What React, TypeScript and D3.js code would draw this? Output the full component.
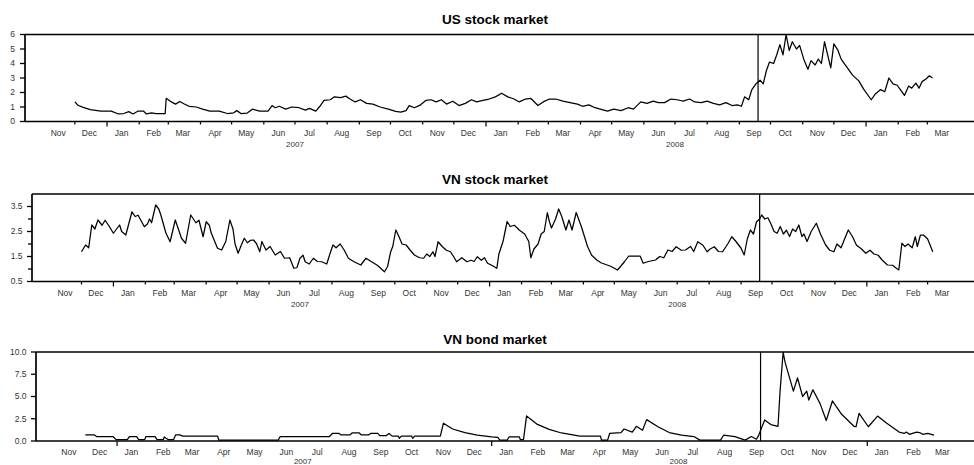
import React from 'react';
import * as d3 from 'd3';

// ---------- data ----------
const usStock: [string, number][] = [
  ['2006-12-01', 1.35], ['2006-12-04', 1.12], ['2006-12-09', 0.97], ['2006-12-16', 0.82], ['2006-12-26', 0.72],
  ['2007-01-05', 0.72], ['2007-01-12', 0.52], ['2007-01-17', 0.55], ['2007-01-22', 0.68], ['2007-01-26', 0.52],
  ['2007-01-31', 0.72], ['2007-02-05', 0.72], ['2007-02-08', 0.52], ['2007-02-13', 0.6], ['2007-02-17', 0.55],
  ['2007-02-26', 0.55], ['2007-02-27', 1.6], ['2007-03-01', 1.5], ['2007-03-04', 1.35], ['2007-03-08', 1.2],
  ['2007-03-12', 1.38], ['2007-03-16', 1.22], ['2007-03-21', 1.05], ['2007-03-28', 1.0], ['2007-04-03', 0.85],
  ['2007-04-10', 0.72], ['2007-04-19', 0.72], ['2007-04-27', 0.55], ['2007-05-03', 0.6], ['2007-05-06', 0.75],
  ['2007-05-10', 0.55], ['2007-05-16', 0.58], ['2007-05-21', 0.85], ['2007-05-28', 0.72], ['2007-06-05', 0.72],
  ['2007-06-09', 1.1], ['2007-06-12', 0.95], ['2007-06-16', 1.05], ['2007-06-22', 0.85], ['2007-06-28', 1.0],
  ['2007-07-05', 0.95], ['2007-07-11', 0.78], ['2007-07-15', 0.9], ['2007-07-21', 0.72], ['2007-07-25', 1.05],
  ['2007-07-29', 1.45], ['2007-08-04', 1.5], ['2007-08-08', 1.7], ['2007-08-14', 1.65], ['2007-08-19', 1.75],
  ['2007-08-23', 1.55], ['2007-08-28', 1.35], ['2007-09-02', 1.5], ['2007-09-08', 1.25], ['2007-09-14', 1.2],
  ['2007-09-21', 1.0], ['2007-09-29', 0.85], ['2007-10-06', 0.7], ['2007-10-11', 0.65], ['2007-10-16', 0.75],
  ['2007-10-19', 1.1], ['2007-10-24', 0.95], ['2007-10-30', 1.15], ['2007-11-04', 1.45], ['2007-11-09', 1.5],
  ['2007-11-14', 1.35], ['2007-11-19', 1.5], ['2007-11-24', 1.2], ['2007-11-30', 1.4], ['2007-12-06', 1.1],
  ['2007-12-12', 1.25], ['2007-12-18', 1.5], ['2007-12-23', 1.35], ['2007-12-29', 1.45], ['2008-01-04', 1.55],
  ['2008-01-10', 1.7], ['2008-01-16', 1.95], ['2008-01-22', 1.7], ['2008-01-28', 1.55], ['2008-02-02', 1.35],
  ['2008-02-08', 1.55], ['2008-02-13', 1.6], ['2008-02-20', 1.1], ['2008-02-25', 1.35], ['2008-03-02', 1.55],
  ['2008-03-08', 1.55], ['2008-03-15', 1.4], ['2008-03-22', 1.3], ['2008-03-29', 1.2], ['2008-04-03', 1.05],
  ['2008-04-09', 1.15], ['2008-04-15', 0.95], ['2008-04-20', 0.85], ['2008-04-27', 0.72], ['2008-05-03', 0.85],
  ['2008-05-10', 0.75], ['2008-05-17', 0.95], ['2008-05-22', 0.85], ['2008-05-29', 1.35], ['2008-06-04', 1.25],
  ['2008-06-10', 1.4], ['2008-06-15', 1.3], ['2008-06-21', 1.3], ['2008-06-27', 1.55], ['2008-07-03', 1.5],
  ['2008-07-09', 1.4], ['2008-07-15', 1.55], ['2008-07-20', 1.35], ['2008-07-26', 1.3], ['2008-08-01', 1.4],
  ['2008-08-07', 1.25], ['2008-08-13', 1.15], ['2008-08-19', 1.3], ['2008-08-25', 1.1], ['2008-08-30', 1.15],
  ['2008-09-03', 1.05], ['2008-09-06', 1.7], ['2008-09-10', 1.5], ['2008-09-13', 2.2], ['2008-09-17', 2.6],
  ['2008-09-21', 2.85], ['2008-09-24', 2.6], ['2008-09-27', 3.5], ['2008-09-30', 4.1], ['2008-10-04', 4.0],
  ['2008-10-07', 4.6], ['2008-10-10', 5.3], ['2008-10-13', 4.6], ['2008-10-16', 6.0], ['2008-10-19', 4.9],
  ['2008-10-22', 5.5], ['2008-10-26', 5.0], ['2008-10-29', 5.25], ['2008-11-02', 4.3], ['2008-11-06', 3.6],
  ['2008-11-09', 4.2], ['2008-11-13', 3.9], ['2008-11-16', 4.3], ['2008-11-19', 4.0], ['2008-11-22', 5.5],
  ['2008-11-25', 4.6], ['2008-11-28', 3.7], ['2008-12-01', 5.35], ['2008-12-05', 4.9], ['2008-12-08', 4.3],
  ['2008-12-13', 3.8], ['2008-12-19', 3.2], ['2008-12-25', 2.8], ['2008-12-30', 2.2], ['2009-01-06', 1.5],
  ['2009-01-10', 1.9], ['2009-01-15', 2.2], ['2009-01-19', 2.05], ['2009-01-23', 3.0], ['2009-01-27', 2.6],
  ['2009-01-31', 2.5], ['2009-02-03', 2.2], ['2009-02-07', 1.8], ['2009-02-11', 2.45], ['2009-02-14', 2.3],
  ['2009-02-18', 2.65], ['2009-02-21', 2.3], ['2009-02-24', 2.75], ['2009-02-28', 2.95], ['2009-03-03', 3.15],
  ['2009-03-06', 3.0],
];

const vnStock: [string, number][] = [
  ['2006-12-01', 1.69], ['2006-12-05', 1.96], ['2006-12-08', 1.85], ['2006-12-11', 2.76], ['2006-12-14', 2.6],
  ['2006-12-17', 2.96], ['2006-12-21', 2.75], ['2006-12-24', 2.95], ['2006-12-28', 2.7], ['2007-01-01', 2.43],
  ['2007-01-07', 2.76], ['2007-01-09', 2.5], ['2007-01-13', 2.36], ['2007-01-19', 3.29], ['2007-01-22', 3.1],
  ['2007-01-25', 3.15], ['2007-01-31', 2.69], ['2007-02-03', 2.8], ['2007-02-05', 3.0], ['2007-02-07', 2.85],
  ['2007-02-11', 3.56], ['2007-02-14', 3.4], ['2007-02-16', 3.16], ['2007-02-21', 2.43], ['2007-02-25', 2.09],
  ['2007-03-02', 2.96], ['2007-03-05', 2.6], ['2007-03-08', 2.23], ['2007-03-12', 2.03], ['2007-03-17', 3.16],
  ['2007-03-22', 2.85], ['2007-03-25', 2.95], ['2007-03-29', 2.29], ['2007-04-01', 2.89], ['2007-04-04', 2.75],
  ['2007-04-06', 2.43], ['2007-04-12', 1.83], ['2007-04-16', 1.76], ['2007-04-20', 2.1], ['2007-04-24', 2.96],
  ['2007-04-27', 2.6], ['2007-04-29', 2.0], ['2007-05-02', 1.63], ['2007-05-05', 1.95], ['2007-05-08', 2.23],
  ['2007-05-11', 2.05], ['2007-05-14', 2.15], ['2007-05-17', 2.16], ['2007-05-20', 2.0], ['2007-05-23', 1.69],
  ['2007-05-25', 2.1], ['2007-05-29', 1.76], ['2007-06-02', 1.9], ['2007-06-07', 1.56], ['2007-06-12', 1.7],
  ['2007-06-16', 1.43], ['2007-06-21', 1.45], ['2007-06-25', 1.03], ['2007-06-28', 1.05], ['2007-07-01', 1.43],
  ['2007-07-04', 1.55], ['2007-07-06', 1.29], ['2007-07-10', 1.2], ['2007-07-14', 1.43], ['2007-07-18', 1.3],
  ['2007-07-22', 1.29], ['2007-07-27', 1.2], ['2007-07-30', 1.6], ['2007-08-02', 1.96], ['2007-08-05', 1.85],
  ['2007-08-09', 2.0], ['2007-08-13', 1.75], ['2007-08-17', 1.43], ['2007-08-22', 1.3], ['2007-08-29', 1.16],
  ['2007-09-03', 1.43], ['2007-09-08', 1.3], ['2007-09-14', 1.15], ['2007-09-21', 0.89], ['2007-09-24', 1.1],
  ['2007-09-27', 1.69], ['2007-09-29', 1.9], ['2007-10-02', 2.56], ['2007-10-05', 2.3], ['2007-10-08', 2.0],
  ['2007-10-12', 1.96], ['2007-10-16', 1.75], ['2007-10-20', 1.56], ['2007-10-25', 1.45], ['2007-10-29', 1.43],
  ['2007-11-01', 1.6], ['2007-11-04', 1.5], ['2007-11-07', 1.69], ['2007-11-09', 1.5], ['2007-11-12', 2.09],
  ['2007-11-16', 1.9], ['2007-11-20', 1.75], ['2007-11-24', 1.69], ['2007-11-27', 1.5], ['2007-11-30', 1.29],
  ['2007-12-05', 1.45], ['2007-12-10', 1.29], ['2007-12-14', 1.35], ['2007-12-17', 1.3], ['2007-12-20', 1.49],
  ['2007-12-24', 1.35], ['2007-12-27', 1.45], ['2007-12-30', 1.23], ['2008-01-03', 1.15], ['2008-01-08', 1.03],
  ['2008-01-10', 1.6], ['2008-01-14', 2.1], ['2008-01-18', 2.9], ['2008-01-21', 2.7], ['2008-01-25', 2.75],
  ['2008-01-30', 2.55], ['2008-02-04', 2.4], ['2008-02-08', 2.1], ['2008-02-10', 1.45], ['2008-02-13', 1.8],
  ['2008-02-17', 2.0], ['2008-02-20', 2.4], ['2008-02-23', 2.5], ['2008-02-26', 3.25], ['2008-02-28', 2.9],
  ['2008-03-01', 2.64], ['2008-03-05', 3.0], ['2008-03-08', 3.4], ['2008-03-11', 3.1], ['2008-03-15', 2.56],
  ['2008-03-18', 2.96], ['2008-03-21', 2.56], ['2008-03-25', 3.26], ['2008-03-30', 2.7], ['2008-04-05', 1.9],
  ['2008-04-09', 1.55], ['2008-04-14', 1.36], ['2008-04-18', 1.25], ['2008-04-24', 1.16], ['2008-04-28', 1.1],
  ['2008-05-04', 0.96], ['2008-05-07', 1.1], ['2008-05-11', 1.3], ['2008-05-15', 1.52], ['2008-05-26', 1.52],
  ['2008-05-29', 1.23], ['2008-06-03', 1.3], ['2008-06-10', 1.36], ['2008-06-14', 1.5], ['2008-06-18', 1.45],
  ['2008-06-22', 1.76], ['2008-06-26', 1.7], ['2008-06-30', 1.89], ['2008-07-05', 1.75], ['2008-07-09', 1.76],
  ['2008-07-14', 1.9], ['2008-07-17', 1.7], ['2008-07-21', 2.09], ['2008-07-26', 1.95], ['2008-07-30', 1.69],
  ['2008-08-02', 1.8], ['2008-08-06', 1.89], ['2008-08-10', 1.7], ['2008-08-14', 1.69], ['2008-08-19', 2.0],
  ['2008-08-23', 2.29], ['2008-08-27', 2.1], ['2008-09-01', 1.83], ['2008-09-04', 1.56], ['2008-09-07', 2.2],
  ['2008-09-10', 2.56], ['2008-09-13', 2.4], ['2008-09-16', 2.89], ['2008-09-19', 3.0], ['2008-09-21', 3.16],
  ['2008-09-24', 3.0], ['2008-09-27', 3.05], ['2008-09-30', 2.8], ['2008-10-03', 2.5], ['2008-10-06', 2.43],
  ['2008-10-09', 2.7], ['2008-10-12', 2.4], ['2008-10-15', 2.55], ['2008-10-18', 2.3], ['2008-10-21', 2.6],
  ['2008-10-24', 2.5], ['2008-10-27', 2.76], ['2008-10-30', 2.3], ['2008-11-01', 2.4], ['2008-11-04', 2.1],
  ['2008-11-08', 2.5], ['2008-11-13', 2.83], ['2008-11-17', 2.4], ['2008-11-22', 1.96], ['2008-11-26', 1.75],
  ['2008-11-30', 1.69], ['2008-12-03', 2.0], ['2008-12-07', 1.85], ['2008-12-10', 2.16], ['2008-12-14', 2.56],
  ['2008-12-18', 2.3], ['2008-12-22', 1.95], ['2008-12-26', 1.83], ['2008-12-31', 1.63], ['2009-01-04', 1.75],
  ['2009-01-08', 1.6], ['2009-01-12', 1.55], ['2009-01-16', 1.35], ['2009-01-21', 1.16], ['2009-01-26', 1.15],
  ['2009-01-29', 1.05], ['2009-02-01', 0.96], ['2009-02-04', 2.03], ['2009-02-07', 1.9], ['2009-02-10', 2.0],
  ['2009-02-14', 1.85], ['2009-02-17', 2.29], ['2009-02-19', 1.9], ['2009-02-22', 2.36], ['2009-02-25', 2.36],
  ['2009-03-01', 2.2], ['2009-03-06', 1.69],
];

const vnBond: [string, number][] = [
  ['2006-12-01', 0.68], ['2006-12-10', 0.68], ['2006-12-12', 0.5], ['2006-12-28', 0.5], ['2006-12-31', 0.15],
  ['2007-01-11', 0.15], ['2007-01-13', 0.5], ['2007-01-20', 0.5], ['2007-01-22', 0.15], ['2007-01-28', 0.15],
  ['2007-01-29', 0.5], ['2007-02-07', 0.5], ['2007-02-09', 0.15], ['2007-02-15', 0.15], ['2007-02-16', 0.45],
  ['2007-02-20', 0.15], ['2007-02-25', 0.15], ['2007-02-27', 0.68], ['2007-03-03', 0.68], ['2007-03-06', 0.55],
  ['2007-04-09', 0.55], ['2007-04-10', 0.1], ['2007-06-07', 0.1], ['2007-06-09', 0.5], ['2007-07-27', 0.5],
  ['2007-07-30', 0.87], ['2007-08-05', 0.87], ['2007-08-07', 0.7], ['2007-08-16', 0.7], ['2007-08-18', 0.9],
  ['2007-08-25', 0.9], ['2007-08-27', 0.68], ['2007-09-03', 0.68], ['2007-09-05', 0.85], ['2007-09-12', 0.85],
  ['2007-09-14', 0.6], ['2007-09-20', 0.6], ['2007-09-23', 0.85], ['2007-09-26', 0.55], ['2007-10-02', 0.55],
  ['2007-10-03', 0.3], ['2007-10-05', 0.55], ['2007-10-15', 0.55], ['2007-10-16', 0.3], ['2007-10-18', 0.55],
  ['2007-11-12', 0.55], ['2007-11-15', 2.0], ['2007-11-24', 1.35], ['2007-12-06', 0.95], ['2007-12-18', 0.65],
  ['2008-01-01', 0.45], ['2008-01-07', 0.4], ['2008-01-09', 0.1], ['2008-01-16', 0.1], ['2008-01-18', 0.45],
  ['2008-01-28', 0.45], ['2008-01-29', 0.15], ['2008-02-01', 0.15], ['2008-02-04', 2.82], ['2008-02-14', 1.9],
  ['2008-02-26', 1.3], ['2008-03-09', 0.9], ['2008-03-27', 0.55], ['2008-04-16', 0.55], ['2008-04-17', 0.1],
  ['2008-04-23', 0.1], ['2008-04-25', 0.87], ['2008-05-06', 0.95], ['2008-05-09', 1.35], ['2008-05-17', 1.0],
  ['2008-05-21', 1.65], ['2008-05-27', 1.2], ['2008-05-31', 2.4], ['2008-06-11', 1.6], ['2008-06-22', 0.95],
  ['2008-07-04', 0.65], ['2008-07-16', 0.5], ['2008-07-22', 0.1], ['2008-08-11', 0.1], ['2008-08-14', 0.65],
  ['2008-08-25', 0.5], ['2008-09-04', 0.1], ['2008-09-10', 0.5], ['2008-09-15', 0.2], ['2008-09-17', 0.6],
  ['2008-09-23', 2.37], ['2008-09-29', 1.85], ['2008-10-06', 1.65], ['2008-10-08', 5.6], ['2008-10-11', 9.95],
  ['2008-10-13', 8.8], ['2008-10-21', 5.6], ['2008-10-25', 7.1], ['2008-10-30', 5.0], ['2008-11-03', 5.6],
  ['2008-11-05', 4.6], ['2008-11-09', 5.75], ['2008-11-16', 4.2], ['2008-11-22', 2.3], ['2008-11-28', 4.5],
  ['2008-12-07', 3.0], ['2008-12-19', 1.65], ['2008-12-21', 1.6], ['2008-12-24', 3.1], ['2009-01-02', 1.6],
  ['2009-01-11', 2.8], ['2009-01-20', 2.0], ['2009-02-01', 1.0], ['2009-02-06', 0.85], ['2009-02-08', 1.0],
  ['2009-02-11', 0.75], ['2009-02-18', 1.0], ['2009-02-21', 0.95], ['2009-02-24', 0.75], ['2009-03-01', 0.85],
  ['2009-03-07', 0.65],
];

const titles = ['US stock market', 'VN stock market', 'VN bond market'];
const usTicks = [0, 1, 2, 3, 4, 5, 6];
const vnStockTicks = [0.5, 1.5, 2.5, 3.5];
const vnStockMinor = [1, 2, 3];
const vnBondTicks = [0, 2.5, 5, 7.5, 10];
const yearLabels = ['2007', '2008'];
const eventDate = '2008-09-19';
const xStart = '2006-10-14';
const xEnd = '2009-04-14';

// ---------- layout ----------
const W = 974;
const H = 465;
const RIGHT = 975;
const FONT = "'Liberation Sans', Arial, Helvetica, sans-serif";

const parse = d3.timeParse('%Y-%m-%d');

type Panel = {
  title: string;
  data: [string, number][];
  left: number;
  top: number;
  bottom: number;
  yDomain: [number, number];
  ticks: number[];
  minor: number[];
  fmt: (v: number) => string;
  labelGap: number;
  titleY: number;
  monthTicks: boolean;
  yearGap: number;
};

const panels: Panel[] = [
  { title: titles[0], data: usStock, left: 25, top: 34.5, bottom: 121.5, yDomain: [0, 6], ticks: usTicks, minor: [], fmt: d3.format('d'), labelGap: 10, titleY: 24, monthTicks: true, yearGap: 25.5 },
  { title: titles[1], data: vnStock, left: 32, top: 194, bottom: 281.5, yDomain: [0.5, 4.0], ticks: vnStockTicks, minor: vnStockMinor, fmt: d3.format('.1f'), labelGap: 9.5, titleY: 183.5, monthTicks: true, yearGap: 25.5 },
  { title: titles[2], data: vnBond, left: 36, top: 352, bottom: 441, yDomain: [0, 10], ticks: vnBondTicks, minor: [], fmt: d3.format('.1f'), labelGap: 9.5, titleY: 343.5, monthTicks: false, yearGap: 22.5 },
];

const months = d3.timeMonth.range(new Date(2006, 10, 1), new Date(2009, 3, 1));
const tickMonths = d3.timeMonth.range(new Date(2006, 11, 1), new Date(2009, 2, 2));
const yearStarts = d3.timeYear.range(new Date(2007, 0, 1), new Date(2009, 0, 2));
const monthFmt = d3.timeFormat('%b');

function PanelView({ p }: { p: Panel }) {
  const x = d3.scaleTime().domain([parse(xStart)!, parse(xEnd)!]).range([p.left, 973]);
  const y = d3.scaleLinear().domain(p.yDomain).range([p.bottom, p.top]);
  const pts = p.data.map(([d, v]) => [parse(d)!, v] as [Date, number]);
  const line = d3.line<[Date, number]>().x((d) => x(d[0])).y((d) => y(d[1]));
  const ev = x(parse(eventDate)!);
  const isYear = (d: Date) => d.getMonth() === 0;
  const xt = p.monthTicks ? tickMonths : yearStarts;
  return (
    <g>
      <text x={495} y={p.titleY} textAnchor="middle" fontFamily={FONT} fontWeight="bold" fontSize={13.5} fill="#000">
        {p.title}
      </text>
      <path d={line(pts) || ''} fill="none" stroke="#000" strokeWidth={1.25} strokeLinejoin="round" />
      <line x1={ev} x2={ev} y1={p.top} y2={p.bottom} stroke="#000" strokeWidth={1.2} />
      <line x1={p.left} x2={RIGHT} y1={p.top} y2={p.top} stroke="#000" strokeWidth={1.7} />
      <line x1={p.left} x2={RIGHT} y1={p.bottom} y2={p.bottom} stroke="#000" strokeWidth={1.7} />
      <line x1={p.left} x2={p.left} y1={p.top} y2={p.bottom} stroke="#000" strokeWidth={1.7} />
      {p.ticks.map((t) => (
        <g key={'yt' + t}>
          <line x1={p.left - 5} x2={p.left} y1={y(t)} y2={y(t)} stroke="#000" strokeWidth={1.3} />
          <text x={p.left - p.labelGap} y={y(t)} dy="0.33em" textAnchor="end" fontFamily={FONT} fontSize={8.5} fill="#333">
            {p.fmt(t)}
          </text>
        </g>
      ))}
      {p.minor.map((t) => (
        <line key={'ym' + t} x1={p.left - 4} x2={p.left} y1={y(t)} y2={y(t)} stroke="#000" strokeWidth={1.3} />
      ))}
      {xt.map((d) => (
        <line key={'xt' + d.getTime()} x1={x(d)} x2={x(d)} y1={p.bottom} y2={p.bottom + (isYear(d) ? 5 : 3)} stroke="#000" strokeWidth={1.2} />
      ))}
      {months.map((d) => (
        <text key={'ml' + d.getTime()} x={x(d3.timeDay.offset(d, 14))} y={p.bottom + 14.3} textAnchor="middle" fontFamily={FONT} fontSize={8.5} fill="#333">
          {monthFmt(d)}
        </text>
      ))}
      {yearLabels.map((yl) => (
        <text key={'yl' + yl} x={x(new Date(+yl, 6, 1))} y={p.bottom + p.yearGap} textAnchor="middle" fontFamily={FONT} fontSize={8} fill="#333">
          {yl}
        </text>
      ))}
    </g>
  );
}

export default function App() {
  return (
    <svg width={W} height={H} viewBox={`0 0 ${W} ${H}`} style={{ position: 'absolute', left: 0, top: 0, background: '#fff' }}>
      <rect x={0} y={0} width={W} height={H} fill="#fff" />
      {panels.map((p) => (
        <PanelView key={p.title} p={p} />
      ))}
    </svg>
  );
}
